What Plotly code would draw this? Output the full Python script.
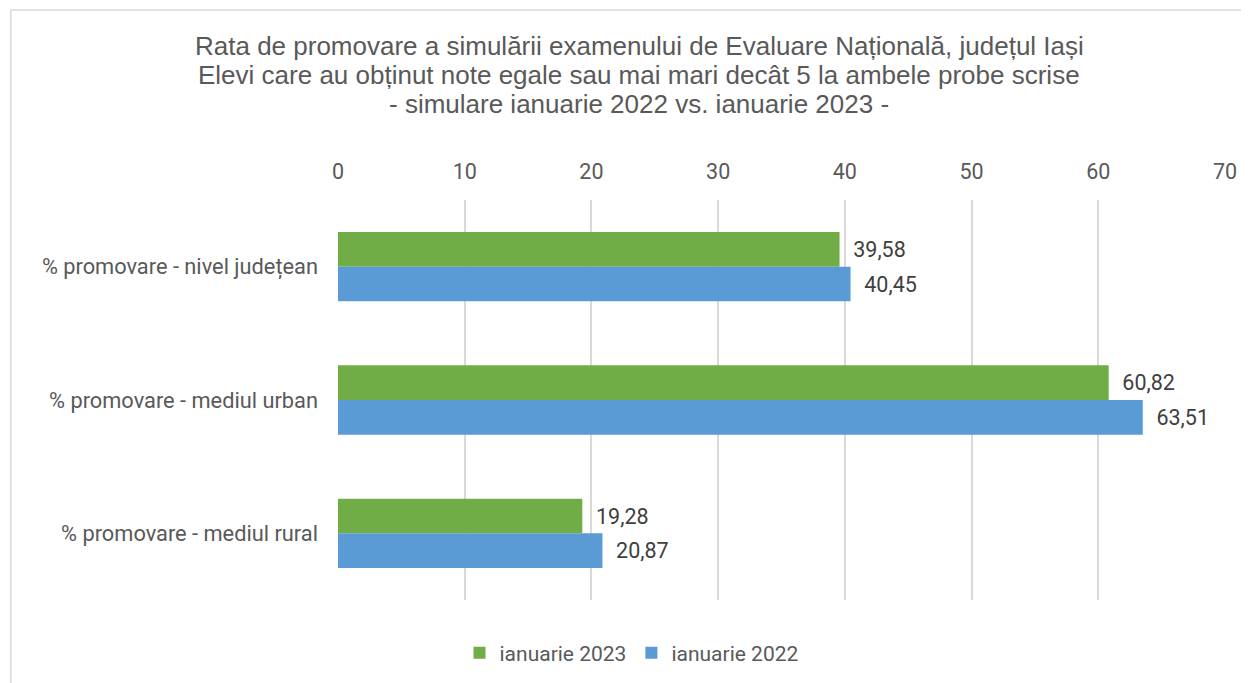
import plotly.graph_objects as go

categories = ["% promovare - nivel județean", "% promovare - mediul urban", "% promovare - mediul rural"]
series_names = ["ianuarie 2023", "ianuarie 2022"]
values_2023 = [39.58, 60.82, 19.28]
values_2022 = [40.45, 63.51, 20.87]
x_ticks = [0, 10, 20, 30, 40, 50, 60, 70]
title_lines = [
    "Rata de promovare a simulării examenului de Evaluare Națională, județul Iași",
    "Elevi care au obținut note egale sau mai mari decât 5 la ambele probe scrise",
    "- simulare ianuarie 2022 vs. ianuarie 2023 -",
]

colors = ["#70AD47", "#5B9BD5"]
OFF = 8  # page body margin
W, H = 1249 - OFF, 683 - OFF
ml, mr, mt, mb = 338 - OFF, 1249 - 1227, 200 - OFF, 683 - 600
pw, ph = W - ml - mr, H - mt - mb
FS = 21.5

fig = go.Figure()
for name, vals, col in zip(series_names, [values_2023, values_2022], colors):
    fig.add_trace(go.Bar(
        y=categories, x=vals, name=name, orientation="h",
        marker=dict(color=col, line=dict(width=0)),
        text=["  " + f"{v:.2f}".replace(".", ",") for v in vals],
        textposition="outside", cliponaxis=False,
        textfont=dict(family="Roboto", size=FS, color="#404040"),
    ))

annotations = []
for i, line in enumerate(title_lines):
    annotations.append(dict(
        text=line, xref="paper", yref="paper",
        x=(640 - OFF - ml) / pw, y=1 + (mt - (46 + 29 * i - OFF)) / ph,
        xanchor="center", yanchor="middle", showarrow=False,
        font=dict(family="Liberation Sans", size=26, color="#595959"),
    ))

fig.update_layout(
    width=W, height=H,
    margin=dict(l=ml, r=mr, t=mt, b=mb),
    paper_bgcolor="white", plot_bgcolor="white",
    barmode="group", bargap=0.48, bargroupgap=0,
    annotations=annotations,
    xaxis=dict(
        side="top", range=[0, 70], tickvals=x_ticks, showgrid=True,
        gridcolor="#D9D9D9", gridwidth=1.5, zeroline=False, showline=False,
        ticks="", tickfont=dict(family="Roboto", size=FS, color="#595959"),
        ticklabelstandoff=16,
    ),
    yaxis=dict(
        autorange="reversed", showgrid=False, zeroline=False, showline=False,
        ticks="", tickfont=dict(family="Roboto", size=21.8, color="#595959"),
        ticklabelstandoff=19,
    ),
    legend=dict(
        orientation="h", x=(632 - OFF) / W, xref="container", xanchor="center",
        y=1 - (653 - OFF) / H, yref="container", yanchor="middle",
        font=dict(family="Roboto", size=21, color="#595959"),
        traceorder="normal", itemwidth=30,
    ),
    showlegend=True,
    shapes=[dict(
        type="rect", xref="paper", yref="paper",
        x0=(10 - OFF - ml) / pw, x1=(W + 20 - ml) / pw,
        y0=-(H + 20 - mt - ph) / ph, y1=1 + (mt - (10 - OFF)) / ph,
        line=dict(color="#D9D9D9", width=1.5), fillcolor="rgba(0,0,0,0)", layer="below",
    )],
)

fig.write_html("out.html")
